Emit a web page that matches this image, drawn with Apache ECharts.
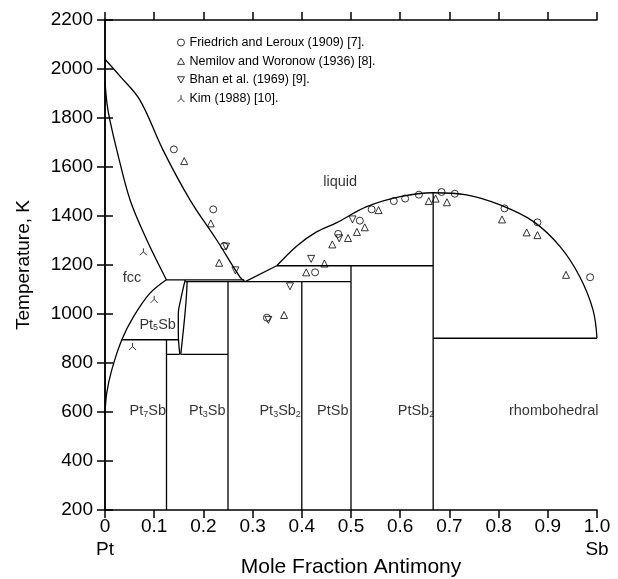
<!DOCTYPE html>
<html><head><meta charset="utf-8">
<script src="https://cdn.jsdelivr.net/npm/echarts@6/dist/echarts.min.js"></script>
<style>html,body{margin:0;padding:0;background:#fff}#c{width:618px;height:579px}</style>
</head><body><div id="c"></div>
<script>
// ---------- data ----------
const seriesNames = ['Friedrich and Leroux (1909) [7].', 'Nemilov and Woronow (1936) [8].', 'Bhan et al. (1969) [9].', 'Kim (1988) [10].'];
const friedrichLeroux = [[0.140,1672],[0.220,1427],[0.242,1278],[0.329,985],[0.427,1170],[0.474,1327],[0.518,1381],[0.542,1427],[0.587,1461],[0.610,1471],[0.638,1487],[0.684,1498],[0.711,1491],[0.812,1431],[0.879,1374],[0.986,1150]];
const nemilovWoronow = [[0.161,1624],[0.215,1370],[0.232,1209],[0.364,996],[0.409,1170],[0.446,1206],[0.462,1284],[0.494,1310],[0.512,1335],[0.528,1354],[0.556,1424],[0.658,1461],[0.672,1471],[0.695,1456],[0.807,1386],[0.857,1333],[0.879,1322],[0.937,1160]];
const bhan = [[0.246,1275],[0.265,1178],[0.332,976],[0.376,1113],[0.419,1225],[0.476,1309],[0.503,1386]];
const kim = [[0.078,1254],[0.100,1060],[0.056,867]];

// phase boundaries
const liquidusPt = [[0,2040],[0.03,1972],[0.071,1873],[0.118,1669],[0.173,1465],[0.227,1302],[0.274,1152],[0.285,1132]];
const solidusFcc = [[0,1950],[0.004,1860],[0.010,1790],[0.024,1669],[0.051,1465],[0.085,1302],[0.125,1139]];
const solvusFcc = [[0,590],[0.0034,676],[0.0136,771],[0.034,894],[0.058,989],[0.091,1084],[0.124,1139]];
const liquidusEut = [[0.285,1132],[0.349,1197]];
const liquidusDome = [[0.349,1197],[0.39,1278],[0.43,1335],[0.47,1372],[0.532,1438],[0.6,1479],[0.667,1495],[0.735,1486],[0.803,1445],[0.871,1377],[0.925,1275],[0.965,1152],[0.992,1016],[1.0,901]];
const pt3sbLeft = [[0.163,1139],[0.154,1060],[0.149,1000],[0.149,920],[0.152,835]];
const pt3sbRight = [[0.167,1132],[0.165,1060],[0.162,989],[0.158,910],[0.154,835]];
const isotherms = [
  [[0.124,1139],[0.283,1139]],
  [[0.163,1132],[0.5,1132]],
  [[0.349,1197],[0.667,1197]],
  [[0.034,895],[0.149,895]],
  [[0.125,835],[0.152,835]],
  [[0.154,835],[0.25,835]],
  [[0.667,901],[1.0,901]]
];
const compoundLines = [
  [[0.125,895],[0.125,200]],
  [[0.25,1132],[0.25,200]],
  [[0.4,1132],[0.4,200]],
  [[0.5,1197],[0.5,200]],
  [[0.667,1495],[0.667,200]]
];
const curves = [liquidusPt, solidusFcc, solvusFcc, liquidusDome, pt3sbLeft, pt3sbRight];
const straights = [liquidusEut].concat(isotherms, compoundLines);

// region labels (text, x, T)
const regionLabels = [
  ['{n|fcc}', 0.055, 1150],
  ['{n|Pt}{s|5}{n|Sb}', 0.107, 958],
  ['{n|liquid}', 0.478, 1540],
  ['{n|Pt}{s|7}{n|Sb}', 0.087, 605],
  ['{n|Pt}{s|3}{n|Sb}', 0.208, 605],
  ['{n|Pt}{s|3}{n|Sb}{s|2}', 0.356, 605],
  ['{n|PtSb}', 0.463, 605],
  ['{n|PtSb}{s|2}', 0.632, 605],
  ['{n|rhombohedral}', 0.912, 605]
];

// ---------- chart ----------
const REG = '"Liberation Sans", Arial, sans-serif';
const chart = echarts.init(document.getElementById('c'), null, {renderer: 'canvas'});

const axisLineStyle = {color: '#000', width: 1.5};
const tick = {show: true, inside: false, length: 8, lineStyle: {color: '#000', width: 1.5}};

const lineSeries = [];
curves.forEach(d => lineSeries.push({type: 'line', data: d, smooth: 0.35, showSymbol: false, silent: true, z: 2,
  lineStyle: {color: '#000', width: 1.3}}));
straights.forEach(d => lineSeries.push({type: 'line', data: d, showSymbol: false, silent: true, z: 2,
  lineStyle: {color: '#000', width: 1.3}}));

const markerStyle = {color: 'none', borderColor: '#000', borderWidth: 1};
const scatterSeries = [
  {name: seriesNames[0], type: 'scatter', data: friedrichLeroux, symbol: 'circle', symbolSize: 7, itemStyle: markerStyle, z: 3},
  {name: seriesNames[1], type: 'scatter', data: nemilovWoronow, symbol: 'path://M5 0 L10 9 L0 9 Z', symbolSize: 7, itemStyle: markerStyle, z: 3},
  {name: seriesNames[2], type: 'scatter', data: bhan, symbol: 'path://M0 0 L10 0 L5 9 Z', symbolSize: 7, itemStyle: markerStyle, z: 3},
  {name: seriesNames[3], type: 'scatter', data: kim, symbol: 'path://M5 0 L5 5 L0 10 M5 5 L10 10', symbolSize: 7, itemStyle: markerStyle, z: 3}
];

const labelSeries = {
  type: 'scatter', silent: true, symbolSize: 0, z: 4,
  data: regionLabels.map(r => ({value: [r[1], r[2]], txt: r[0]})),
  label: {
    show: true, position: 'inside', color: '#000',
    formatter: p => p.data.txt,
    rich: {
      n: {fontFamily: REG, fontSize: 14.5, color: '#000', lineHeight: 16, verticalAlign: 'bottom'},
      s: {fontFamily: REG, fontSize: 9, color: '#000', lineHeight: 16, verticalAlign: 'bottom'}
    }
  }
};

chart.setOption({
  animation: false,
  backgroundColor: '#fff',
  grid: {left: 105, right: 21, top: 20, bottom: 69, containLabel: false, outerBoundsMode: 'none'},
  legend: {
    data: seriesNames, orient: 'vertical', left: 170, top: 31, itemGap: 5.7,
    itemWidth: 7, itemHeight: 7,
    itemStyle: {borderWidth: 1},
    textStyle: {fontFamily: REG, fontSize: 12.5, color: '#000'}
  },
  xAxis: [
    {type: 'value', min: 0, max: 1, interval: 0.1, position: 'bottom',
     axisLine: {lineStyle: axisLineStyle}, axisTick: tick, splitLine: {show: false},
     axisLabel: {color: '#000', fontFamily: REG, fontSize: 19, margin: 5, lineHeight: 23,
       formatter: v => v === 0 ? '0\nPt' : (Math.abs(v - 1) < 1e-9 ? '1.0\nSb' : v.toFixed(1))},
     name: 'Mole Fraction Antimony', nameLocation: 'middle', nameGap: 47, nameMoveOverlap: false,
     nameTextStyle: {color: '#000', fontFamily: REG, fontSize: 21}},
    {type: 'value', min: 0, max: 1, interval: 0.1, position: 'top',
     axisLine: {lineStyle: axisLineStyle}, axisTick: tick, axisLabel: {show: false}, splitLine: {show: false}}
  ],
  yAxis: [
    {type: 'value', min: 200, max: 2200, interval: 200, position: 'left',
     axisLine: {lineStyle: axisLineStyle}, axisTick: tick, splitLine: {show: false},
     axisLabel: {color: '#000', fontFamily: REG, fontSize: 19, margin: 12, formatter: v => String(v)},
     name: 'Temperature, K', nameLocation: 'middle', nameGap: 72, nameRotate: 90, nameMoveOverlap: false,
     nameTextStyle: {color: '#000', fontFamily: REG, fontSize: 19}},
    {type: 'value', min: 200, max: 2200, interval: 200, position: 'right',
     axisLine: {lineStyle: axisLineStyle}, axisTick: tick, axisLabel: {show: false}, splitLine: {show: false}}
  ],
  series: lineSeries.concat(scatterSeries, [labelSeries])
});
</script></body></html>
